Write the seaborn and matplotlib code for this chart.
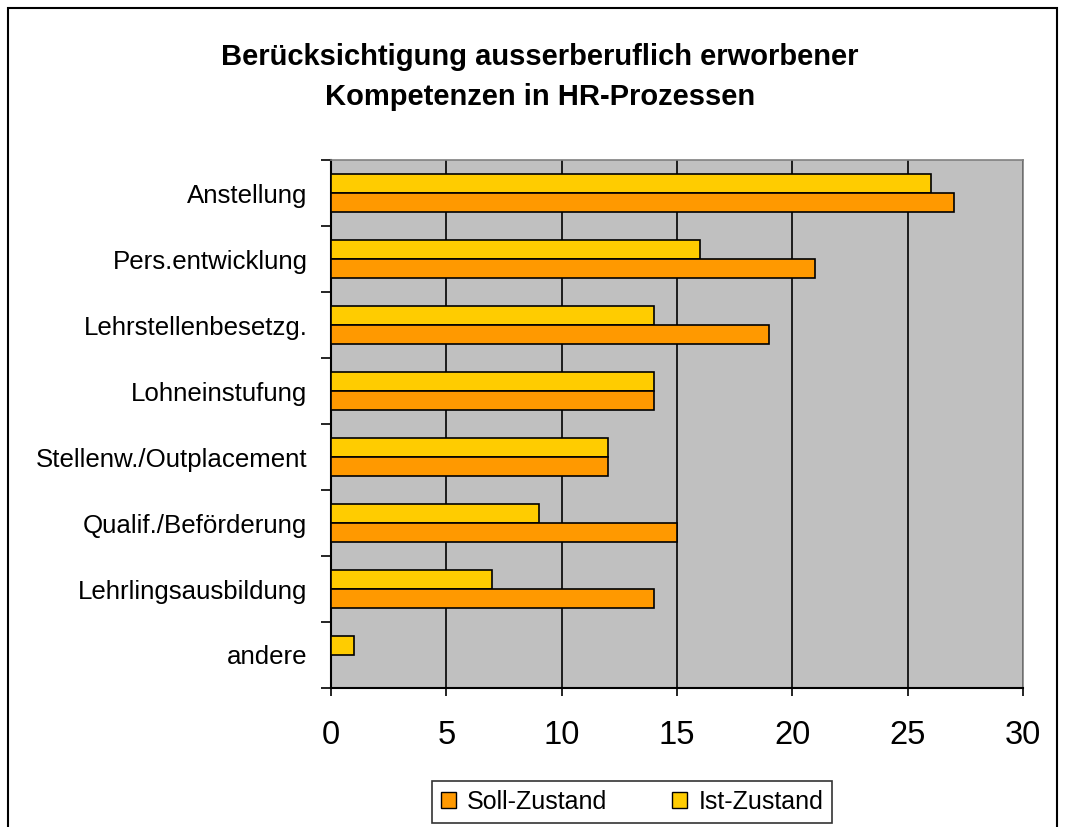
import matplotlib
matplotlib.use("Agg")
import matplotlib.pyplot as plt
import seaborn as sns
import pandas as pd
import numpy as np
from matplotlib.patches import Rectangle, Patch

categories = ["Anstellung", "Pers.entwicklung", "Lehrstellenbesetzg.", "Lohneinstufung",
              "Stellenw./Outplacement", "Qualif./Beförderung", "Lehrlingsausbildung", "andere"]
soll = [27, 21, 19, 14, 12, 15, 14, 0]
ist = [26, 16, 14, 14, 12, 9, 7, 1]
xticks = [0, 5, 10, 15, 20, 25, 30]

sns.set_theme(style="white")
plt.rcParams['font.family'] = ['Liberation Sans', 'DejaVu Sans']
plt.rcParams['text.color'] = 'black'
plt.rcParams['xtick.color'] = 'black'
plt.rcParams['ytick.color'] = 'black'

df = pd.DataFrame({
    "Kategorie": categories * 2,
    "Wert": ist + soll,
    "Serie": ["Ist-Zustand"] * len(categories) + ["Soll-Zustand"] * len(categories),
})
colors = {"Ist-Zustand": "#FFCC00", "Soll-Zustand": "#FF9900"}

fig = plt.figure(figsize=(10.65, 8.27), dpi=100)
ax = fig.add_axes([331/1065, 1-688/827, (1023-331)/1065, (688-160)/827])
sns.barplot(data=df, y="Kategorie", x="Wert", hue="Serie", order=categories,
            hue_order=["Ist-Zustand", "Soll-Zustand"], palette=colors, orient="h",
            width=0.58, saturation=1, edgecolor="black", linewidth=1.2, ax=ax,
            legend=False, zorder=3)

ax.set_facecolor("#C0C0C0")
ax.set_xlim(0, 30)
ax.set_ylim(len(categories) - 0.5, -0.5)
ax.set_xticks(xticks)
ax.set_xticklabels([str(t) for t in xticks], fontsize=23.5)
ax.set_xlabel("")
ax.set_ylabel("")
ax.xaxis.grid(True, color="black", linewidth=1.2, zorder=1)
ax.set_axisbelow(True)
ax.tick_params(axis="x", direction="out", length=6, width=1.2, color="black", pad=17,
               bottom=True, labelcolor="black")
ax.tick_params(axis="y", which="major", length=0, labelsize=18.6, pad=17, labelcolor="black")
ax.set_yticks(np.arange(-0.5, len(categories), 1.0), minor=True)
ax.tick_params(axis="y", which="minor", direction="out", length=7, width=1.2, color="black", left=True)
for side in ["left", "bottom"]:
    ax.spines[side].set_color("black")
    ax.spines[side].set_linewidth(1.5)
for side in ["top", "right"]:
    ax.spines[side].set_color("#808080")
    ax.spines[side].set_linewidth(1.2)

fig.text(540/1065, 1-57/827, "Berücksichtigung ausserberuflich erworbener",
         ha="center", va="center", fontsize=21, fontweight="bold", color="black")
fig.text(540/1065, 1-97/827, "Kompetenzen in HR-Prozessen",
         ha="center", va="center", fontsize=21, fontweight="bold", color="black")

handles = [Patch(facecolor=colors["Soll-Zustand"], edgecolor="black", linewidth=1.0, label="Soll-Zustand"),
           Patch(facecolor=colors["Ist-Zustand"], edgecolor="black", linewidth=1.0, label="Ist-Zustand")]
leg = fig.legend(handles=handles, loc="center", bbox_to_anchor=(632/1065, 1-802/827), ncol=2,
                 fontsize=18, frameon=True, fancybox=False, edgecolor="black",
                 handlelength=0.6, handleheight=0.6, columnspacing=2.6, handletextpad=0.45,
                 borderpad=0.35)
leg.get_frame().set_linewidth(1.2)
for t in leg.get_texts():
    t.set_color("black")

fig.patches.append(Rectangle((8/1065, -0.05), (1057-8)/1065, 1.05 - 8/827, transform=fig.transFigure,
                             fill=False, edgecolor="black", linewidth=1.5))

fig.savefig("out.png", dpi=100)
